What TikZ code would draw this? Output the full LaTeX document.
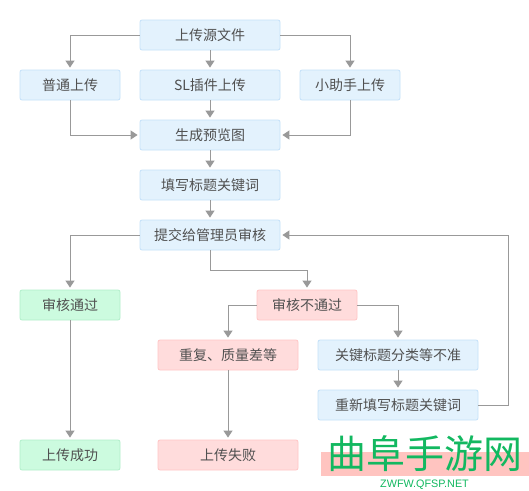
\documentclass[tikz,border=0pt]{standalone}
\usepackage{fontspec}
\setmainfont{Noto Sans CJK SC}
\newfontfamily\wmfont{Liberation Sans}
\usetikzlibrary{arrows.meta,calc}
\definecolor{bluefill}{HTML}{E3F2FD}
\definecolor{blueline}{HTML}{C5E1F9}
\definecolor{greenfill}{HTML}{CCFBDF}
\definecolor{greenline}{HTML}{B2EFCB}
\definecolor{redfill}{HTML}{FFDCDC}
\definecolor{redline}{HTML}{FFC6C6}
\definecolor{txt}{HTML}{505050}
\definecolor{wire}{HTML}{999999}
\definecolor{wmgreen}{HTML}{12B860}
\definecolor{wmpink}{HTML}{FFC4C0}
\tikzset{
  box/.style={draw=blueline,fill=bluefill,rounded corners=2pt,line width=0.8pt,inner sep=0pt,
    minimum height=30pt,text=txt,font=\fontsize{14}{14}\selectfont,anchor=center,
    text height=12.5pt,text depth=2pt},
  bluebox/.style={box},
  greenbox/.style={box,draw=greenline,fill=greenfill},
  redbox/.style={box,draw=redline,fill=redfill},
  link/.style={draw=wire,line width=1pt,-{Triangle[length=7pt,width=9pt]},shorten >=2pt},
}
\begin{document}
\begin{tikzpicture}[x=1pt,y=-1pt]
\useasboundingbox (0,0) rectangle (529,490);
\fill[white] (0,0) rectangle (529,490);
\node[bluebox,minimum width=140pt] (src) at (210,35) {上传源文件};
\node[bluebox,minimum width=100pt] (norm) at (70,85) {普通上传};
\node[bluebox,minimum width=140pt] (sl) at (210,85) {SL插件上传};
\node[bluebox,minimum width=100pt] (help) at (350,85) {小助手上传};
\node[bluebox,minimum width=140pt] (prev) at (210,135) {生成预览图};
\node[bluebox,minimum width=140pt] (fill) at (210,185) {填写标题关键词};
\node[bluebox,minimum width=140pt] (sub) at (210,235) {提交给管理员审核};
\node[greenbox,minimum width=100pt] (pass) at (70,305) {审核通过};
\node[redbox,minimum width=100pt] (fail) at (307,305) {审核不通过};
\node[redbox,minimum width=140pt] (dup) at (228,355) {重复、质量差等};
\node[bluebox,minimum width=160pt] (kw) at (398,355) {关键标题分类等不准};
\node[bluebox,minimum width=160pt] (redo) at (398,405) {重新填写标题关键词};
\node[greenbox,minimum width=100pt] (ok) at (70,455) {上传成功};
\node[redbox,minimum width=140pt] (bad) at (228,455) {上传失败};
\coordinate (mid) at (210,270);
\coordinate (loop) at (508,235);
\draw[link] (src.west) -| (norm.north);
\draw[link] (src.east) -| (help.north);
\draw[link] (src) -- (sl);
\draw[link] (sl) -- (prev);
\draw[link] (norm.south) |- (prev.west);
\draw[link] (help.south) |- (prev.east);
\draw[link] (prev) -- (fill);
\draw[link] (fill) -- (sub);
\draw[link] (sub.west) -| (pass.north);
\draw[link] (sub.south) -- (mid) -| (fail.north);
\draw[link] (fail.west) -| (dup.north);
\draw[link] (fail.east) -| (kw.north);
\draw[link] (kw) -- (redo);
\draw[link] (redo.east) -| (loop) -- (sub.east);
\draw[link] (pass) -- (ok);
\draw[link] (dup) -- (bad);
\fill[wmpink] (321,452) rectangle (529,476);
\node[text=wmgreen,font=\fontsize{39}{39}\selectfont,inner sep=0pt] (wm) at (425,454) {曲阜手游网};
\node[text=wmgreen,font=\wmfont\fontsize{10.8}{12}\selectfont,inner sep=0pt] (url) at (424.5,485) {ZWFW.QFSP.NET};
\end{tikzpicture}
\end{document}
